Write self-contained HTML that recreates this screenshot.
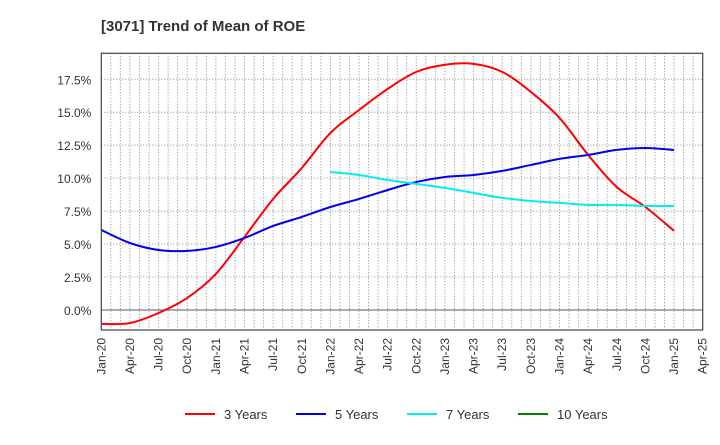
<!DOCTYPE html>
<html><head><meta charset="utf-8"><style>
body{margin:0;background:#fff;font-family:"Liberation Sans",Arial,sans-serif}
</style></head><body>
<svg id="chart" width="720" height="440" xmlns="http://www.w3.org/2000/svg" font-family="Liberation Sans, Arial, sans-serif">
<text x="101" y="31" font-size="15" font-weight="bold" fill="#333">[3071]  Trend of Mean of ROE</text>
<g id="grid"></g><g id="series"></g><g id="axes"></g><g id="legend"></g>
</svg>
<script>
const xLabels=["Jan-20","Apr-20","Jul-20","Oct-20","Jan-21","Apr-21","Jul-21","Oct-21","Jan-22","Apr-22","Jul-22","Oct-22","Jan-23","Apr-23","Jul-23","Oct-23","Jan-24","Apr-24","Jul-24","Oct-24","Jan-25","Apr-25"];
const yTicks=[0,2.5,5,7.5,10,12.5,15,17.5];
const years3=[-1.06,-0.99,-0.23,0.91,2.73,5.54,8.42,10.77,13.43,15.17,16.77,18.06,18.6,18.67,18.06,16.54,14.57,11.76,9.33,7.81,6.0];
const years5=[6.07,5.08,4.55,4.48,4.78,5.46,6.37,7.06,7.81,8.42,9.1,9.71,10.09,10.24,10.55,11.0,11.46,11.76,12.14,12.29,12.14];
const years7=[null,null,null,null,null,null,null,null,10.47,10.24,9.86,9.56,9.26,8.88,8.5,8.27,8.12,7.97,7.97,7.89,7.89];
const years10=[];
const L=101.3,R=702.7,T=53.3,B=330,yMin=-1.52,yMax=19.47;
const xm=m=>L+(R-L)*m/63;
const xq=i=>xm(i*3);
const y=v=>B-(v-yMin)/(yMax-yMin)*(B-T);
const NS="http://www.w3.org/2000/svg";
function mk(t,a,p){const e=document.createElementNS(NS,t);for(const k in a)e.setAttribute(k,a[k]);p.appendChild(e);return e;}
const g=document.getElementById('grid');
for(let m=1;m<63;m++){const l=mk('line',{x1:xm(m),x2:xm(m),y1:T,y2:B,stroke:'#888','stroke-dasharray':'1,2','stroke-width':1},g);

}
yTicks.forEach(v=>{const l=mk('line',{x1:L,x2:R,y1:y(v),y2:y(v),stroke:v===0?'#555':'#888','stroke-dasharray':v===0?'':'1,2','stroke-width':1},g);


const t=mk('text',{x:L-10,y:y(v)+5,'text-anchor':'end','font-size':12,fill:'#333'},g);t.textContent=v.toFixed(1)+'%';

});
const a=document.getElementById('axes');
const fr=mk('rect',{x:L,y:T,width:R-L,height:B-T,fill:'none',stroke:'#444','stroke-width':1.2},a);


xLabels.forEach((s,i)=>{const x=xq(i);const t=mk('text',{x:0,y:0,'text-anchor':'end','font-size':12,fill:'#333',transform:`translate(${x+4},${B+8}) rotate(-90)`},a);t.textContent=s;

});
function path(vals){const pts=[];vals.forEach((v,i)=>{if(v!=null)pts.push([xq(i),y(v)]);});if(pts.length<2)return '';
let d=`M${pts[0][0]},${pts[0][1]}`;for(let i=0;i<pts.length-1;i++){const p0=pts[i-1]||pts[i],p1=pts[i],p2=pts[i+1],p3=pts[i+2]||p2;
d+=` C${p1[0]+(p2[0]-p0[0])/6},${p1[1]+(p2[1]-p0[1])/6} ${p2[0]-(p3[0]-p1[0])/6},${p2[1]-(p3[1]-p1[1])/6} ${p2[0]},${p2[1]}`;}return d;}
const s=document.getElementById('series');
const series=[[years3,'#ff0000','3 Years','line-3-years'],[years5,'#0000ee','5 Years','line-5-years'],[years7,'#00eeee','7 Years','line-7-years'],[years10,'#008000','10 Years','line-10-years']];
series.forEach(([vals,c,n,id])=>{const d=path(vals);if(!d)return;const p=mk('path',{d,fill:'none',stroke:c,'stroke-width':2},s);

});
const lg=document.getElementById('legend');
const lx=[185,296,407,518];
series.forEach(([v,c,n,id],i)=>{const e=mk('g',{},lg);


mk('line',{x1:lx[i],x2:lx[i]+30,y1:414,y2:414,stroke:c,'stroke-width':2},e);
const t=mk('text',{x:lx[i]+39,y:419,'font-size':13,fill:'#333'},e);t.textContent=n;});
</script>
</body></html>
